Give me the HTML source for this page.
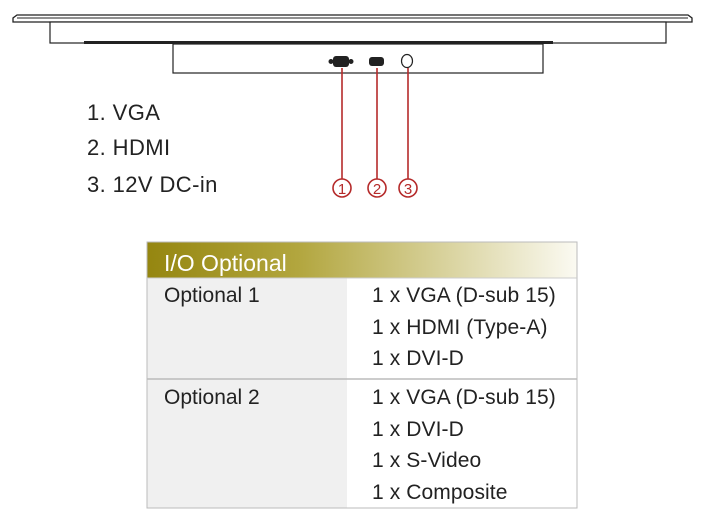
<!DOCTYPE html>
<html><head><style>
body{margin:0;width:705px;height:523px;background:#fff;font-family:"Liberation Sans",sans-serif;position:relative;overflow:hidden;color:#222}
.t{position:absolute;white-space:nowrap}
</style></head><body>
<svg width="705" height="523" style="position:absolute;left:0;top:0">
<path d="M17,15 L688,15 L692,18 L692,22 L13,22 L13,18 Z" fill="#fff" stroke="#222" stroke-width="1.3"/>
<line x1="17" y1="18" x2="688" y2="18" stroke="#222" stroke-width="1"/>
<rect x="50" y="22" width="616" height="21" fill="#fff" stroke="#222" stroke-width="1.2"/>
<rect x="84" y="41" width="469" height="3" fill="#222"/>
<rect x="173" y="44" width="370" height="29" fill="#fff" stroke="#222" stroke-width="1.2"/>
<rect x="333" y="56" width="16" height="11" rx="3" fill="#222"/>
<circle cx="331" cy="61.5" r="2.5" fill="#222"/><circle cx="351" cy="61.5" r="2.5" fill="#222"/>
<rect x="369" y="57" width="15" height="9" rx="3" fill="#222"/>
<ellipse cx="407" cy="61" rx="5.5" ry="6.5" fill="#fff" stroke="#222" stroke-width="1.2"/>
<g stroke="#b52a2a" stroke-width="1.6" fill="none">
<line x1="342" y1="68" x2="342" y2="179"/><line x1="377" y1="68" x2="377" y2="179"/><line x1="408" y1="68" x2="408" y2="179"/>
<circle cx="342" cy="188" r="9"/><circle cx="377" cy="188" r="9"/><circle cx="408" cy="188" r="9"/>
</g>
<g fill="#b52a2a" font-family="Liberation Sans" font-size="15" text-anchor="middle">
<text x="342" y="194">1</text><text x="377" y="194">2</text><text x="408" y="194">3</text>
</g>
<defs><linearGradient id="g" x1="0" x2="1"><stop offset="0" stop-color="#958610"/><stop offset="0.35" stop-color="#b2a63e"/><stop offset="1" stop-color="#fbfaf2"/></linearGradient></defs>
<rect x="147" y="242" width="430" height="36" fill="url(#g)"/>
<rect x="147" y="278" width="200" height="230" fill="#f0f0f0"/>
<rect x="147" y="242" width="430" height="266" fill="none" stroke="#bbb" stroke-width="1"/>
<line x1="147" y1="278" x2="577" y2="278" stroke="#ccc"/>
<line x1="147" y1="379" x2="577" y2="379" stroke="#bbb" stroke-width="1.5"/>
</svg>
<div class="t" style="left:87px;top:98px;font-size:22px;line-height:30px;letter-spacing:0.4px">1. VGA</div>
<div class="t" style="left:87px;top:133px;font-size:22px;line-height:30px;letter-spacing:0.4px">2. HDMI</div>
<div class="t" style="left:87px;top:170px;font-size:22px;line-height:30px;letter-spacing:0.4px">3. 12V DC-in</div>
<div class="t" style="left:164px;top:245px;font-size:23px;line-height:36px;color:#fff">I/O Optional</div>
<div class="t" style="left:164px;top:280px;font-size:21px;line-height:32px">Optional 1</div>
<div class="t" style="left:164px;top:382px;font-size:21px;line-height:32px">Optional 2</div>
<div class="t" style="left:372px;top:280px;font-size:21px;line-height:31.5px;letter-spacing:0.1px">1 x VGA (D-sub 15)<br>1 x HDMI (Type-A)<br>1 x DVI-D</div>
<div class="t" style="left:372px;top:382px;font-size:21px;line-height:31.7px;letter-spacing:0.1px">1 x VGA (D-sub 15)<br>1 x DVI-D<br>1 x S-Video<br>1 x Composite</div>
</body></html>
